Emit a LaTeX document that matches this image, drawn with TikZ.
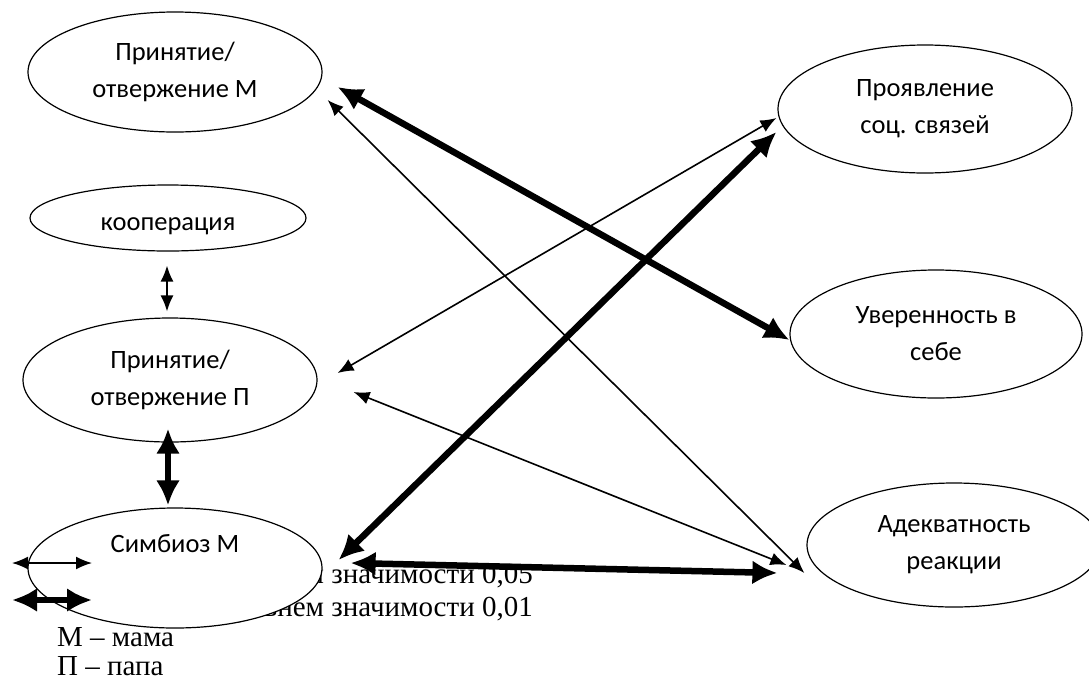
\documentclass[tikz,border=0pt]{standalone}
\usepackage{fontspec}
\setmainfont{Liberation Serif}
\newfontfamily\calibri{Carlito}
\usetikzlibrary{shapes.geometric,arrows.meta}
\tikzset{
    oval/.style={ellipse, draw, line width=1.2pt, fill=white, inner sep=0pt, align=center,
        font=\calibri\fontsize{26.5}{37}\selectfont},
    thinlink/.style={line width=1.6pt, {Latex[length=16pt,width=13pt]}-{Latex[length=16pt,width=13pt]}},
    boldlink/.style={line width=6.5pt, {Latex[length=25pt,width=24pt]}-{Latex[length=25pt,width=24pt]}},
    legend/.style={inner sep=0pt, font=\fontsize{29}{31}\selectfont}
}
\begin{document}
\begin{tikzpicture}[x=1pt, y=-1pt]
        \useasboundingbox (0,0) rectangle (1089,681);
        \node[legend, anchor=base east] (lg1) at (533,583) {– связь с уровнем значимости 0,05};
        \node[legend, anchor=base east] (lg2) at (533,616) {– связь с уровнем значимости 0,01};
        \node[legend, anchor=base west] (lgm) at (57,646) {М – мама};
        \node[legend, anchor=base west] (lgp) at (57,675) {П – папа};
        \node[oval, minimum width=294pt, minimum height=120pt] (pm) at (175,72) {Принятие/\\отвержение М};
        \node[oval, minimum width=276pt, minimum height=66pt, text height=24pt, text depth=0pt] (coop) at (168,218) {кооперация};
        \node[oval, minimum width=294pt, minimum height=124pt] (pp) at (170,380) {Принятие/\\отвержение П};
        \node[oval, minimum width=294pt, minimum height=120pt] (sm) at (175,568) {Симбиоз М\\\strut};
        \node[oval, minimum width=294pt, minimum height=128pt] (soc) at (925,109) {Проявление\\соц. связей};
        \node[oval, minimum width=292pt, minimum height=128pt] (conf) at (936,334) {Уверенность в\\себе};
        \node[oval, minimum width=294pt, minimum height=124pt] (adeq) at (954,545) {Адекватность\\реакции};
        \draw[boldlink] ([shift={(15,15)}]pm.east) -- ([shift={(0,6)}]conf.west);
        \draw[thinlink] ([shift={(5,28)}]pm.east) -- ([shift={(-2,28)}]adeq.west);
        \draw[thinlink] ([shift={(-1,9)}]soc.west) -- ([shift={(20,-7)}]pp.east);
        \draw[thinlink] ([shift={(36,12)}]pp.east) -- ([shift={(-20,20)}]adeq.west);
        \draw[boldlink] ([shift={(-1,23)}]soc.west) -- ([shift={(16,-8)}]sm.east);
        \draw[boldlink] ([shift={(28,-5)}]sm.east) -- ([shift={(-29,28)}]adeq.west);
        \draw[thinlink] ([shift={(-1,14)}]coop.south) -- ([shift={(-3,-6)}]pp.north);
        \draw[boldlink] ([shift={(-2,-14)}]pp.south) -- ([shift={(-7,-2)}]sm.north);
        \coordinate (k1a) at (12,563);
        \coordinate (k1b) at (92,563);
        \coordinate (k2a) at (12,600);
        \coordinate (k2b) at (92,600);
        \draw[thinlink] (k1a) -- (k1b);
        \draw[boldlink] (k2a) -- (k2b);
    \end{tikzpicture}
\end{document}
